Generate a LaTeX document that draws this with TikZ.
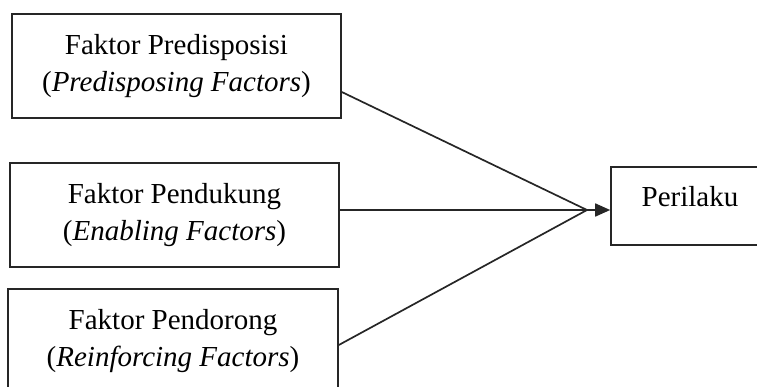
\documentclass[tikz,border=0pt]{standalone}
\usepackage{fontspec}
\setmainfont{Liberation Serif}
\usetikzlibrary{arrows.meta}
\begin{document}
\begin{tikzpicture}[x=1pt,y=-1pt,
  box/.style={draw=black!85,line width=1.6pt,rectangle,inner sep=0pt,align=center,
    font=\fontsize{29}{37}\selectfont},
  conn/.style={draw=black!85,line width=1.7pt}]
\useasboundingbox (0,0) rectangle (757,386);
\clip (0,0) rectangle (757,386);
\node[box,minimum width=329pt,minimum height=104pt] (b1) at (176.5,66) {Faktor Predisposisi\\(\textit{Predisposing Factors})};
\node[box,minimum width=329pt,minimum height=104pt] (b2) at (174.5,215) {Faktor Pendukung\\(\textit{Enabling Factors})};
\node[box,minimum width=330pt,minimum height=104pt] (b3) at (173,341) {Faktor Pendorong\\(\textit{Reinforcing Factors})};
\node[box,minimum width=158pt,minimum height=78pt,text height=20pt,text depth=20pt] (per) at (690,206) {Perilaku};
\coordinate (m) at (587,210);
\draw[conn] ([yshift=-26pt]b1.east) -- (m);
\draw[conn] ([yshift=5pt]b2.east) -- (m);
\draw[conn] ([yshift=-4pt]b3.east) -- (m);
\draw[conn,-{Triangle[length=15pt,width=13pt]}] (m) -- (per.west |- m);
\end{tikzpicture}
\end{document}
